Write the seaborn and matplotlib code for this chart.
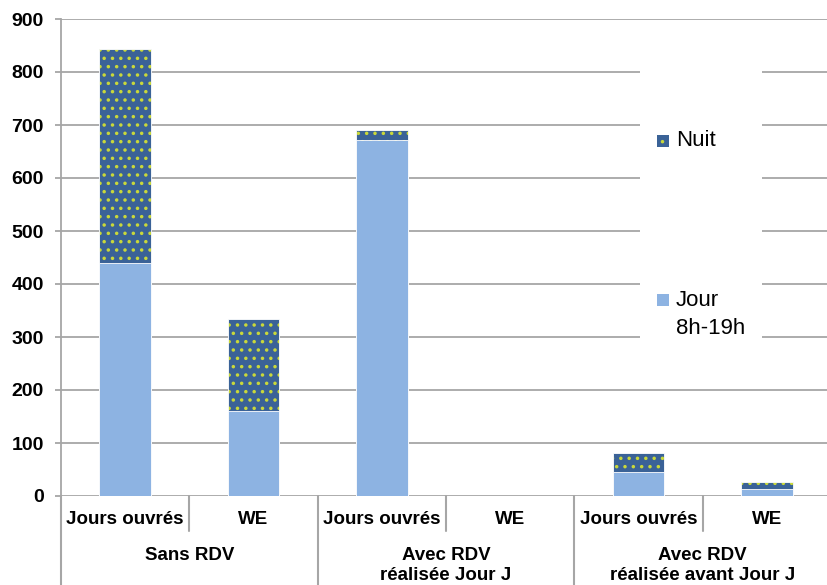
import matplotlib
matplotlib.use("Agg")
import matplotlib.pyplot as plt
import matplotlib.patches as mpatches
from matplotlib.colors import to_rgba
import seaborn as sns
import pandas as pd

# ---- data ----
groups = ["Sans RDV", "Avec RDV\nréalisée Jour J", "Avec RDV\nréalisée avant Jour J"]
periods = ["Jours ouvrés", "WE"]
jour = [440, 160, 672, 0, 45, 14]
nuit = [403, 174, 18, 0, 36, 13]
yticks = [0, 100, 200, 300, 400, 500, 600, 700, 800, 900]
legend_labels = ["Nuit", "Jour\n8h-19h"]

# ---- styling ----
sns.set_theme(style="white")
plt.rcParams["font.family"] = ["Liberation Sans", "DejaVu Sans"]
plt.rcParams["hatch.linewidth"] = 1.3

COL_JOUR = "#8DB3E2"
COL_NUIT = "#3A6297"
COL_DOT = "#C9D83A"
GRID = "#A6A6A6"

keys = [f"{g}|{p}" for g in groups for p in periods]
df = pd.DataFrame({
    "key": keys,
    "jour": jour,
    "total": [j + n for j, n in zip(jour, nuit)],
})

W, H = 828, 585
fig = plt.figure(figsize=(W / 100, H / 100), dpi=100)
ax = fig.add_axes([61 / W, (H - 496) / H, 770 / W, (496 - 19) / H])

sns.barplot(data=df, x="key", y="total", order=keys, color=COL_NUIT,
            saturation=1, width=0.405, errorbar=None, ax=ax)
sns.barplot(data=df, x="key", y="jour", order=keys, color=COL_JOUR,
            saturation=1, width=0.405, errorbar=None, ax=ax)

for p in ax.containers[0]:
    p.set_edgecolor("white")
    p.set_linewidth(0.6)
    p.set_hatch("..")
    p._hatch_color = to_rgba(COL_DOT)
for p in ax.containers[1]:
    p.set_edgecolor("white")
    p.set_linewidth(0.6)

ax.set_xlim(-0.5, 5.5)
ax.set_ylim(0, 900)
ax.set_yticks(yticks)
ax.set_yticklabels([str(v) for v in yticks], fontsize=14, fontweight="bold", color="black")
ax.set_xticks([])
ax.set_xlabel("")
ax.set_ylabel("")
ax.yaxis.grid(True, color=GRID, linewidth=1.3)
ax.set_axisbelow(True)
ax.tick_params(axis="y", which="both", left=True, length=4.5, width=1.3,
               color=GRID, pad=8)
for s in ["top", "right", "bottom"]:
    ax.spines[s].set_visible(False)
ax.spines["left"].set_color(GRID)
ax.spines["left"].set_linewidth(1.3)

# ---- multi-level category axis ----
def fx(x):
    return x / W

def fy(y):
    return (H - y) / H

line_kw = dict(color=GRID, linewidth=1.5, transform=fig.transFigure, clip_on=False)
cw = 770 / 6
x0 = 61
for i in [0, 2, 4]:
    xx = x0 + i * cw
    fig.add_artist(plt.Line2D([fx(xx), fx(xx)], [fy(496), fy(585)], **line_kw))
for i in [1, 3, 5]:
    xx = x0 + i * cw
    fig.add_artist(plt.Line2D([fx(xx), fx(xx)], [fy(496), fy(531)], **line_kw))

for i, k in enumerate(keys):
    g, p = k.split("|")
    cx = x0 + (i + 0.5) * cw
    fig.text(fx(cx), fy(520), p, ha="center", va="center",
             fontsize=13.5, fontweight="bold", color="black")

for gi, g in enumerate(groups):
    cx = x0 + (2 * gi + 1) * cw
    lines = g.split("\n")
    for li, t in enumerate(lines):
        fig.text(fx(cx), fy(555 + 21 * li), t, ha="center", va="center",
                 fontsize=13.5, fontweight="bold", color="black")

# ---- legend (drawn manually, white box over gridlines) ----
fig.add_artist(mpatches.Rectangle((fx(640), fy(348)), (762 - 640) / W, (348 - 62) / H,
                                  transform=fig.transFigure, facecolor="white",
                                  edgecolor="none", zorder=5))
hn = mpatches.Rectangle((fx(657), fy(147)), 12 / W, 12 / H, transform=fig.transFigure,
                        facecolor=COL_NUIT, edgecolor="none", hatch="..", zorder=6)
hn._hatch_color = to_rgba(COL_DOT)
fig.add_artist(hn)
fig.add_artist(mpatches.Rectangle((fx(657), fy(306)), 12 / W, 12 / H, transform=fig.transFigure,
                                  facecolor=COL_JOUR, edgecolor="none", zorder=6))
fig.text(fx(676), fy(141), legend_labels[0], ha="left", va="center", fontsize=16,
         color="black", zorder=7)
jl = legend_labels[1].split("\n")
fig.text(fx(676), fy(300), jl[0], ha="left", va="center", fontsize=16, color="black", zorder=7)
fig.text(fx(676), fy(328), jl[1], ha="left", va="center", fontsize=16, color="black", zorder=7)

fig.savefig("out.png", dpi=100)
